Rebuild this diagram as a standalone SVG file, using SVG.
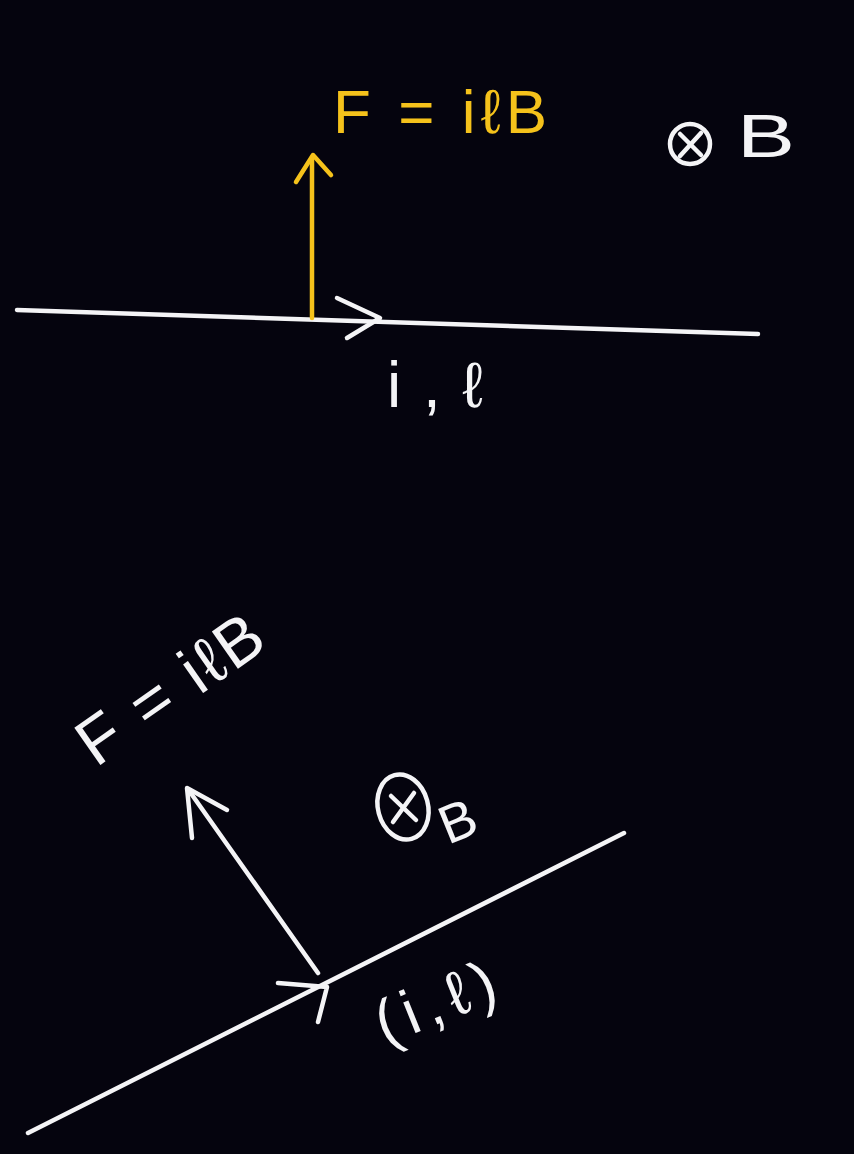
<svg xmlns="http://www.w3.org/2000/svg" width="854" height="1154" viewBox="0 0 854 1154">
  <style>
    .w { stroke: #f4f4f6; fill: none; stroke-width: 4.5; stroke-linecap: round; stroke-linejoin: round; }
    .y { stroke: #f5c21b; fill: none; stroke-width: 4.5; stroke-linecap: round; stroke-linejoin: round; }
    .tw { fill: #f4f4f6; font-family: "Liberation Sans", "DejaVu Sans", sans-serif; }
    .ty { fill: #f5c21b; font-family: "Liberation Sans", "DejaVu Sans", sans-serif; }
  </style>
  <rect width="854" height="1154" fill="#05040e"/>

  <g id="connectors">
    <!-- top wire -->
    <line class="w" x1="17" y1="310" x2="758" y2="334"/>
    <polyline class="w" points="337,298 380,318 347,338"/>
    <!-- top force arrow -->
    <line class="y" x1="312" y1="318" x2="312" y2="158"/>
    <polyline class="y" points="296,182 313,155 331,175"/>
    <!-- bottom wire -->
    <line class="w" x1="28" y1="1133" x2="624" y2="833"/>
    <polyline class="w" points="278,983 327,987 318,1022"/>
    <!-- bottom force arrow -->
    <line class="w" x1="318" y1="973" x2="190" y2="792"/>
    <polyline class="w" points="192,838 187,788 227,810"/>
  </g>

  <g id="top-force-label">
    <text class="ty" x="333" y="133" font-size="62" textLength="214" lengthAdjust="spacing">F = iℓB</text>
  </g>
  <g id="top-field">
    <circle class="w" cx="690" cy="144" r="20"/>
    <line class="w" x1="680" y1="134" x2="701" y2="155"/>
    <line class="w" x1="701" y1="133" x2="680" y2="156"/>
    <text class="tw" x="737" y="157" font-size="62" textLength="58" lengthAdjust="spacingAndGlyphs">B</text>
  </g>
  <g id="top-current-label">
    <text class="tw" x="387" y="407" font-size="64" textLength="96" lengthAdjust="spacing">i,ℓ</text>
  </g>

  <g id="bottom-force-label">
    <text class="tw" transform="translate(96,768) rotate(-35)" x="0" y="0" font-size="66" textLength="212" lengthAdjust="spacing">F = iℓB</text>
  </g>
  <g id="bottom-field">
    <ellipse class="w" cx="403" cy="807" rx="25" ry="33" transform="rotate(-15 403 807)"/>
    <line class="w" x1="391" y1="796" x2="416" y2="820"/>
    <line class="w" x1="414" y1="793" x2="393" y2="822"/>
    <text class="tw" transform="translate(448,845) rotate(-22)" font-size="54">B</text>
  </g>
  <g id="bottom-current-label">
    <text class="tw" transform="translate(443,1022) rotate(-22)" text-anchor="middle" font-size="62" textLength="125" lengthAdjust="spacing">(i,ℓ)</text>
  </g>
</svg>
